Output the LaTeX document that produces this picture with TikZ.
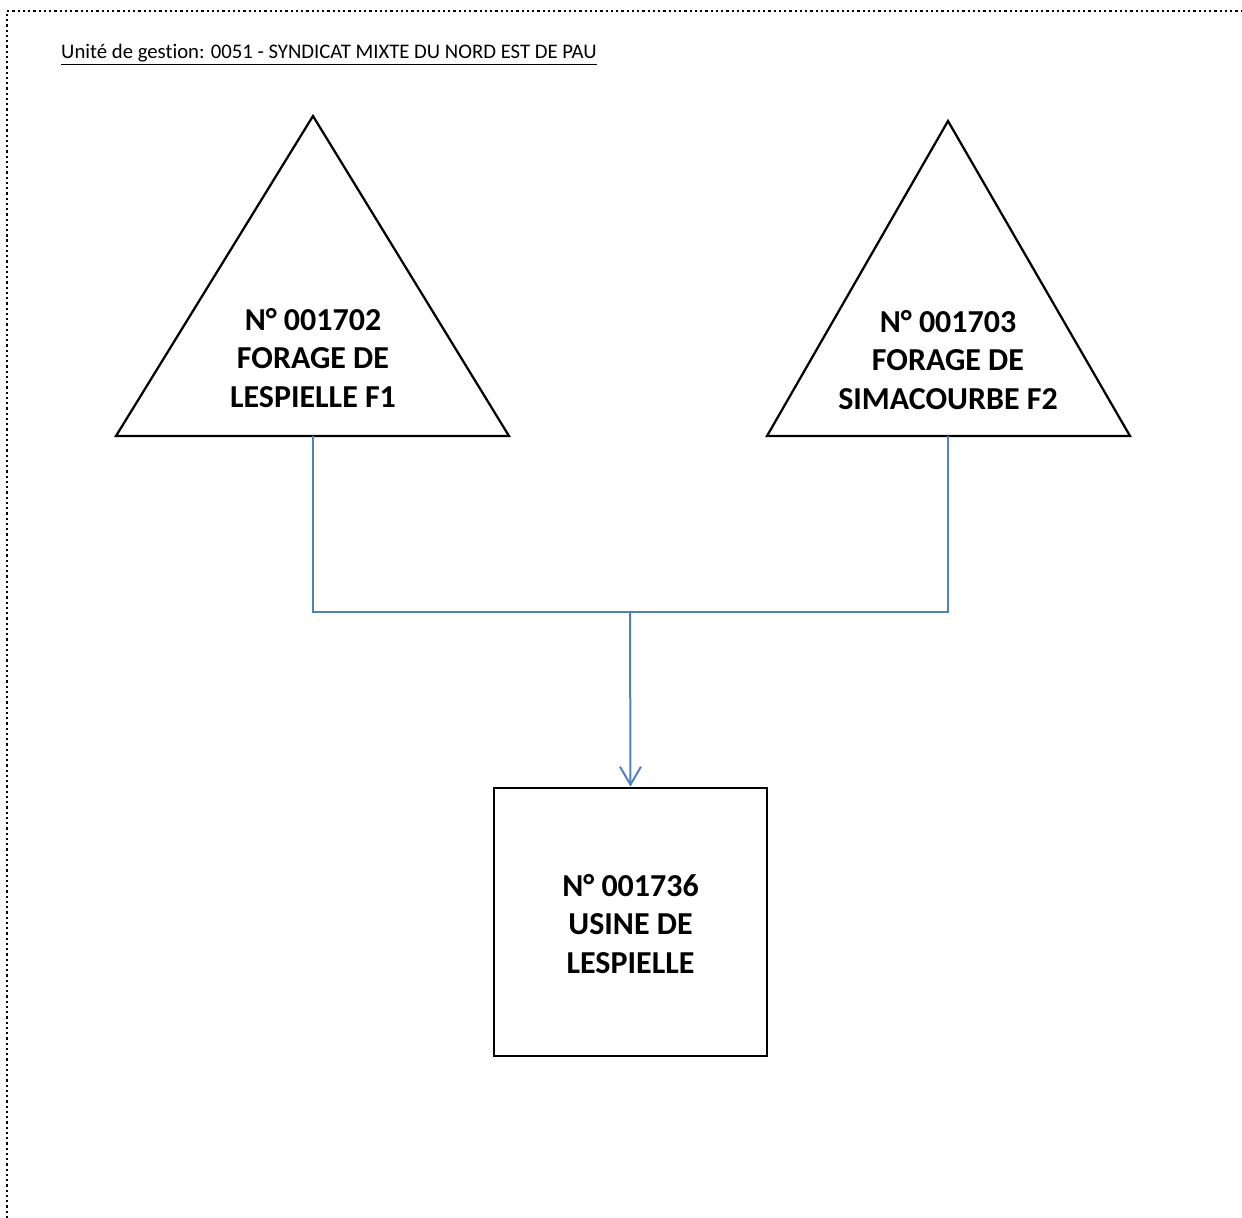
\documentclass[tikz,border=0pt]{standalone}
\usepackage{fontspec}
\setmainfont{Carlito}[Ligatures=NoCommon]
\usepackage{tikz}
\usetikzlibrary{arrows.meta, positioning}

\definecolor{linkblue}{RGB}{79,129,189}
\tikzset{
  frame/.style={line width=0.045cm, dash pattern=on 0.045cm off 0.06cm},
  tri/.style={line width=0.045cm, line join=miter},
  label/.style={align=center, font=\fontsize{18.2}{22}\selectfont\bfseries},
  plant/.style={draw, line width=0.055cm, minimum width=5.46cm, minimum height=5.36cm},
  link/.style={draw=linkblue, line width=0.04cm},
}

\begin{document}
\begin{tikzpicture}[x=0.02cm, y=-0.02cm]
\useasboundingbox (0,0) rectangle (1242,1218);

% Dotted frame
\draw[frame] (7,1218) -- (7,11) -- (1242,11);
\node[anchor=west, font=\fontsize{11.8}{13}\selectfont] (title) at (55,55)
  {\underline{Unité de gestion: 0051 - SYNDICAT MIXTE DU NORD EST DE PAU}};

% Triangles
\draw[tri] (313,116) -- (509,436) -- (116,436) -- cycle;
\coordinate (f1) at (313,436);
\node[label] (f1text) at (313,358) {N° 001702\\FORAGE DE\\LESPIELLE F1};

\draw[tri] (948,121) -- (1130,436) -- (767,436) -- cycle;
\coordinate (f2) at (948,436);
\node[label] (f2text) at (948,360) {N° 001703\\FORAGE DE\\SIMACOURBE F2};

% Plant
\node[plant] (usine) at (630.5,922) {};
\node[label] (usinetext) at (630.5,924) {N° 001736\\USINE DE\\LESPIELLE};

% Connectors
\coordinate (join) at (630,612);
\draw[link] (f1) |- (join);
\draw[link] (f2) |- (join);
\draw[link, -{Straight Barb[length=0.36cm, width=0.42cm]}] (join) -- (usine.north);
\end{tikzpicture}
\end{document}
